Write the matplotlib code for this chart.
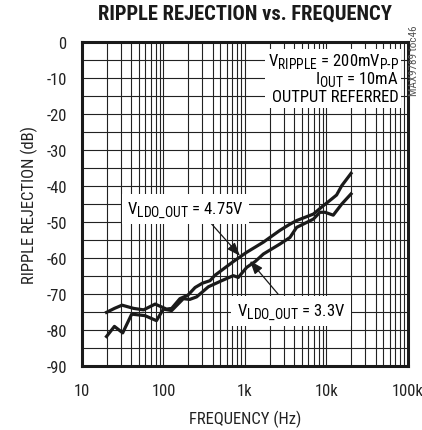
import matplotlib
matplotlib.use('Agg')
import matplotlib.pyplot as plt
import matplotlib._mathtext as mt
from matplotlib import font_manager
from matplotlib.patches import Rectangle
from matplotlib.ticker import FixedLocator, NullFormatter

# pick a narrow sans face if one is around
installed = set(f.name for f in font_manager.fontManager.ttflist)
prefs = ['Roboto Condensed', 'Archivo Narrow', 'PT Sans Narrow', 'Fira Sans Condensed',
         'IBM Plex Sans Condensed', 'Liberation Sans Narrow', 'Liberation Sans']
font = next((p for p in prefs if p in installed), 'DejaVu Sans')
narrow = font != 'Liberation Sans' and font != 'DejaVu Sans'
fs = 12 if narrow else 10

plt.rcParams['font.family'] = [font, 'DejaVu Sans']
plt.rcParams['mathtext.fontset'] = 'custom'
plt.rcParams['mathtext.rm'] = font
plt.rcParams['axes.unicode_minus'] = False
# subscripts in the datasheet are nearly full size
mt.SHRINK_FACTOR = 0.82

# VLDO_OUT = 4.75V
freq_475 = [20, 25, 31, 43, 57, 79, 109, 126, 159, 200, 244, 300, 372, 428,
            718, 1050, 1330, 1680, 2690, 3560, 4300, 6900, 9100, 11600,
            13300, 15400, 20000]
rej_475 = [-75.1, -74.0, -73.1, -74.0, -74.4, -72.8, -74.2, -74.0, -71.3,
           -70.3, -68.2, -67.0, -66.3, -64.8, -61.0, -58.4, -57.0, -55.6,
           -52.3, -50.6, -49.6, -47.8, -45.5, -43.6, -42.5, -39.9, -36.5]

# VLDO_OUT = 3.3V
freq_33 = [20, 25, 31.6, 40.7, 59, 82, 99.5, 126, 175, 210, 255, 355, 518,
           718, 828, 1050, 1330, 1680, 2690, 3560, 4300, 6900, 8300, 9600,
           12100, 15400, 20000]
rej_33 = [-81.8, -79.0, -80.8, -75.6, -76.0, -77.4, -74.2, -74.6, -71.3,
          -71.5, -70.8, -68.0, -66.3, -64.9, -65.4, -62.6, -61.0, -58.9,
          -56.1, -54.3, -51.5, -49.2, -47.3, -47.3, -48.1, -45.0, -42.2]

xticks = [10, 100, 1000, 10000, 100000]
xticklabels = ['10', '100', '1k', '10k', '100k']
yticks = list(range(-90, 1, 10))

fig = plt.figure(figsize=(4.22, 4.31), dpi=100)
ax = fig.add_axes([0.1943, 0.1485, 0.7725, 0.7517])

ax.plot(freq_475, rej_475, color='#1a1a1a', lw=2.3, zorder=4)
ax.plot(freq_33, rej_33, color='#1a1a1a', lw=2.3, zorder=4)

ax.set_xscale('log')
ax.set_xlim(10, 100000)
ax.set_ylim(-90, 0)

# grid: every log minor in x, every 5 dB in y
minors = [m * 10 ** d for d in range(1, 5) for m in range(2, 10)]
ax.xaxis.set_minor_locator(FixedLocator(minors))
ax.xaxis.set_minor_formatter(NullFormatter())
ax.yaxis.set_minor_locator(FixedLocator(list(range(-85, 0, 10))))
ax.grid(True, which='both', color='#222222', lw=0.8)
ax.set_axisbelow(True)

ax.set_xticks(xticks)
ax.set_xticklabels(xticklabels)
ax.set_yticks(yticks)
ax.tick_params(which='both', length=0, labelsize=fs, colors='#222222')
ax.tick_params(axis='x', pad=12)
ax.tick_params(axis='y', pad=11)
for s in ax.spines.values():
    s.set_linewidth(2.2)
    s.set_color('#1a1a1a')
    s.set_zorder(6)

ax.set_xlabel('FREQUENCY (Hz)', fontsize=fs, color='#222222', labelpad=9)
ax.set_ylabel('RIPPLE REJECTION (dB)', fontsize=fs, color='#222222', labelpad=6)
fig.text(0.58, 0.967, 'RIPPLE REJECTION vs. FREQUENCY', ha='center', va='center',
         fontsize=14.8 if narrow else 12, fontweight='bold', color='#1a1a1a')

# white patch behind the conditions block
ax.add_patch(Rectangle((0.56, 0.795), 0.42, 0.182, transform=ax.transAxes,
                       facecolor='white', edgecolor='none', zorder=3))
ax.text(77600, -5, r'V$_{\mathrm{RIPPLE}}$ = 200mV$_{\mathrm{P‐P}}$', ha='right',
        va='center', fontsize=fs, zorder=5)
ax.text(77600, -10, r'I$_{\mathrm{OUT}}$ = 10mA', ha='right',
        va='center', fontsize=fs, zorder=5)
ax.text(77600, -15, 'OUTPUT REFERRED', ha='right',
        va='center', fontsize=fs, zorder=5)

arrow = dict(arrowstyle='-|>,head_length=0.8,head_width=0.3', color='#1a1a1a',
             lw=0.9, shrinkA=0, shrinkB=0)
ax.annotate('', xy=(868, -59.4), xytext=(351, -49.4), arrowprops=arrow, zorder=5)
ax.annotate('', xy=(1151, -60.8), xytext=(2541, -70), arrowprops=arrow, zorder=5)
ax.text(186, -46.4, r'V$_{\mathrm{LDO\_OUT}}$ = 4.75V', ha='center', va='center',
        fontsize=fs, bbox=dict(facecolor='white', edgecolor='none', pad=4), zorder=5)
ax.text(3664, -74.7, r'V$_{\mathrm{LDO\_OUT}}$ = 3.3V', ha='center', va='center',
        fontsize=fs, bbox=dict(facecolor='white', edgecolor='none', pad=4), zorder=5)

fig.text(0.981, 0.858, 'MAX9789 toc46', rotation=90, ha='center', va='center',
         fontsize=8, color='#555555')

fig.savefig('out.png', dpi=100)
